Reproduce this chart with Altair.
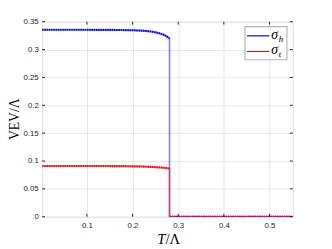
import altair as alt
import pandas as pd

# data
T = [0.002, 0.05, 0.10, 0.15, 0.18, 0.20, 0.22, 0.24, 0.25, 0.26, 0.27, 0.275, 0.281, 0.281, 0.551]
sigma_h = [0.3355, 0.3355, 0.3355, 0.3353, 0.3350, 0.3347, 0.3340, 0.3325, 0.3310, 0.3290, 0.3260, 0.3235, 0.3200, 0.0, 0.0]
sigma_t = [0.0910, 0.0910, 0.0910, 0.0910, 0.0908, 0.0905, 0.0902, 0.0895, 0.0890, 0.0885, 0.0878, 0.0873, 0.0865, 0.0, 0.0]
x_ticks = [0.1, 0.2, 0.3, 0.4, 0.5]
y_ticks = [0, 0.05, 0.1, 0.15, 0.2, 0.25, 0.3, 0.35]
series = ["sigma_h", "sigma_t"]
colors = ["#0000ff", "#ff0000"]

rows = []
for s, vals in zip(series, [sigma_h, sigma_t]):
    for i, (t, v) in enumerate(zip(T, vals)):
        rows.append({"T": t, "v": v, "s": s, "i": i, "seg": "a" if i <= 12 else "b"})
df = pd.DataFrame(rows)

W, H = 257, 200
xs = alt.Scale(domain=[0.002, 0.551], nice=False, zero=False)
ys = alt.Scale(domain=[0, 0.35], nice=False)

ax_x = alt.Axis(values=x_ticks, title=None, grid=True, ticks=False,
                domain=False, labelPadding=5, labelFontSize=8,
                labelColor="#262626", labelFont="Liberation Sans",
                gridColor="#e6e6e6", labelOverlap=False)
ax_y = alt.Axis(values=y_ticks, format="~g", title=None, grid=True,
                ticks=False, domain=False, labelPadding=4,
                labelFontSize=8, labelColor="#262626",
                labelFont="Liberation Sans", gridColor="#e6e6e6",
                labelOverlap=False)

base = alt.Chart(df).encode(
    x=alt.X("T:Q", scale=xs, axis=ax_x),
    y=alt.Y("v:Q", scale=ys, axis=ax_y),
    color=alt.Color("s:N", scale=alt.Scale(domain=series, range=colors), legend=None),
    order=alt.Order("i:Q"),
)

lines = base.mark_line(strokeWidth=1.6, strokeOpacity=0.5, clip=True)
dots = base.mark_line(strokeWidth=2.2, strokeDash=[1.5, 0.8], clip=True).encode(
    detail=alt.Detail("seg:N"))

ytick_df = pd.DataFrame({"v": y_ticks})
xtick_df = pd.DataFrame({"T": x_ticks})
tk = "#262626"
yt_left = alt.Chart(ytick_df).mark_rule(color=tk).encode(
    y=alt.Y("v:Q", scale=ys, axis=ax_y), x=alt.value(0), x2=alt.value(3))
yt_right = alt.Chart(ytick_df).mark_rule(color=tk).encode(
    y=alt.Y("v:Q", scale=ys, axis=ax_y), x=alt.value(W - 3), x2=alt.value(W))
xt_bot = alt.Chart(xtick_df).mark_rule(color=tk).encode(
    x=alt.X("T:Q", scale=xs, axis=ax_x), y=alt.value(H - 3), y2=alt.value(H))
xt_top = alt.Chart(xtick_df).mark_rule(color=tk).encode(
    x=alt.X("T:Q", scale=xs, axis=ax_x), y=alt.value(0), y2=alt.value(3))

one = pd.DataFrame({"a": [0]})
# y title
yt = alt.Chart(one).mark_text(font="Liberation Serif", fontSize=14, angle=270,
                              align="center", baseline="middle", color="black").encode(
    x=alt.value(-28), y=alt.value(H / 2), text=alt.value("VEV/Λ"))
# x title
xt1 = alt.Chart(one).mark_text(font="Liberation Serif", fontSize=15, fontStyle="italic",
                               align="right", baseline="middle", color="black").encode(
    x=alt.value(W / 2 - 2), y=alt.value(H + 23), text=alt.value("T"))
xt2 = alt.Chart(one).mark_text(font="Liberation Serif", fontSize=15,
                               align="left", baseline="middle", color="black").encode(
    x=alt.value(W / 2 - 2), y=alt.value(H + 23), text=alt.value("/Λ"))

# legend
lx0, ly0, lx1, ly1 = 208, 5, 251, 39
leg_box = alt.Chart(one).mark_rect(fill="white", stroke="#b5b5b5", strokeWidth=1.2).encode(
    x=alt.value(lx0), x2=alt.value(lx1), y=alt.value(ly0), y2=alt.value(ly1))
leg_parts = [leg_box]
for k, (c, sub) in enumerate(zip(colors, ["h", "t"])):
    yy = 14.5 + 16 * k
    leg_parts.append(alt.Chart(one).mark_rule(color=c, strokeWidth=1.2).encode(
        x=alt.value(210), x2=alt.value(233), y=alt.value(yy)))
    leg_parts.append(alt.Chart(one).mark_text(font="Liberation Serif", fontSize=14, fontStyle="italic",
                                              align="left", baseline="middle", color="black").encode(
        x=alt.value(235), y=alt.value(yy - 1), text=alt.value("σ")))
    leg_parts.append(alt.Chart(one).mark_text(font="Liberation Serif", fontSize=9, fontStyle="italic",
                                              align="left", baseline="middle", color="black").encode(
        x=alt.value(242.5), y=alt.value(yy + 3), text=alt.value(sub)))

chart = alt.layer(lines, dots, yt_left, yt_right, xt_bot, xt_top, yt, xt1, xt2, *leg_parts).properties(
    width=W, height=H,
    autosize=alt.AutoSizeParams(type="none"),
    padding={"left": 35, "top": 11, "right": 32, "bottom": 30},
).configure_view(stroke="#262626", strokeWidth=1).configure(background="white")

chart.save("out.html", embed_options={"renderer": "svg", "actions": False})
